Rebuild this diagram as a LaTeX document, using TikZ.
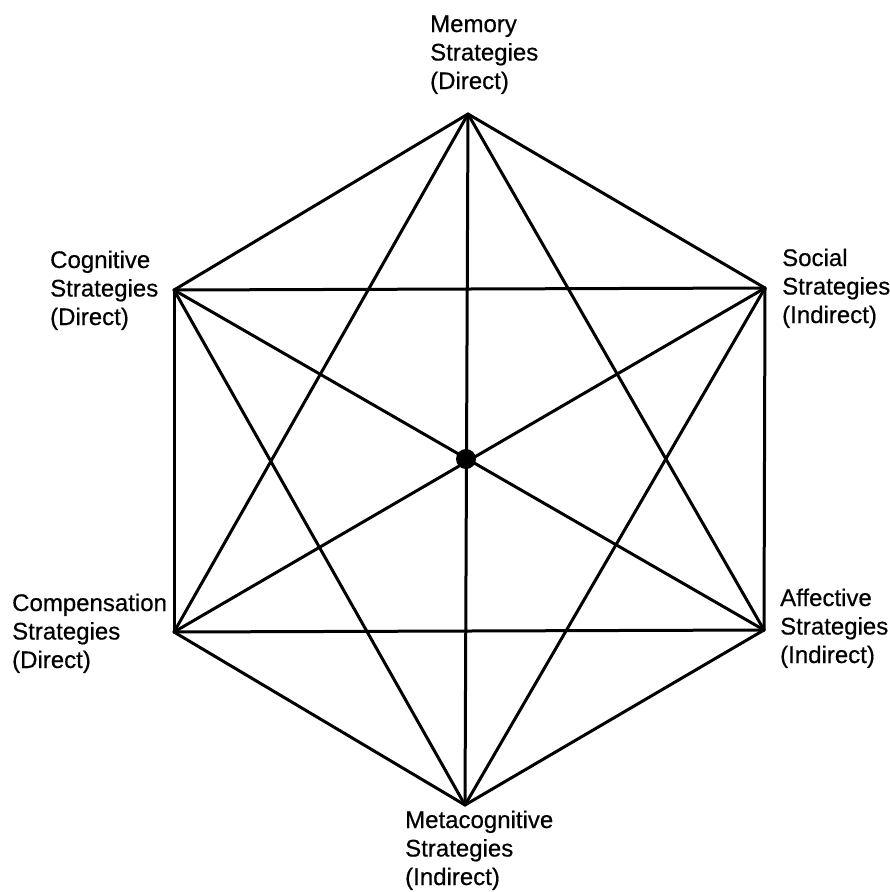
\documentclass[tikz,border=0pt]{standalone}
\usepackage{fontspec}
\setmainfont{Liberation Sans}
\newfontfamily\lblfont{Liberation Sans}[FakeBold=0.5]
\begin{document}
\begin{tikzpicture}[x=1pt,y=-1pt,
  vtx/.style={coordinate},
  edge/.style={line width=3pt, line cap=round, line join=round},
  lbl/.style={anchor=base west, inner sep=0pt, align=left,
              font=\lblfont\fontsize{24}{28.5}\selectfont}]
\useasboundingbox (0,0) rectangle (890,892);

% corners of the hexagon and its centre
\node[vtx] (mem) at (468,114) {};
\node[vtx] (cog) at (174,290) {};
\node[vtx] (soc) at (765,288) {};
\node[vtx] (com) at (174,632) {};
\node[vtx] (aff) at (764,630) {};
\node[vtx] (met) at (465,805) {};
\node[circle, fill=black, inner sep=0pt, minimum size=20pt] (ctr) at (466,459) {};

% every corner joined to every other corner
\foreach \a/\b in {mem/cog, mem/soc, mem/com, mem/aff, mem/met,
                   cog/soc, cog/com, cog/aff, cog/met,
                   soc/com, soc/aff, soc/met,
                   com/aff, com/met,
                   aff/met}
  \draw[edge] (\a) -- (\b);

% labels (anchored at the baseline of their last line)
\node[lbl] (tmem) at (430,89)  {Memory\\Strategies\\(Direct)};
\node[lbl] (tcog) at (50,325)  {Cognitive\\Strategies\\(Direct)};
\node[lbl] (tsoc) at (782,323) {Social\\Strategies\\(Indirect)};
\node[lbl] (tcom) at (12,668)  {Compensation\\Strategies\\(Direct)};
\node[lbl] (taff) at (780,663) {Affective\\Strategies\\(Indirect)};
\node[lbl] (tmet) at (405,885) {Metacognitive\\Strategies\\(Indirect)};
\end{tikzpicture}
\end{document}
